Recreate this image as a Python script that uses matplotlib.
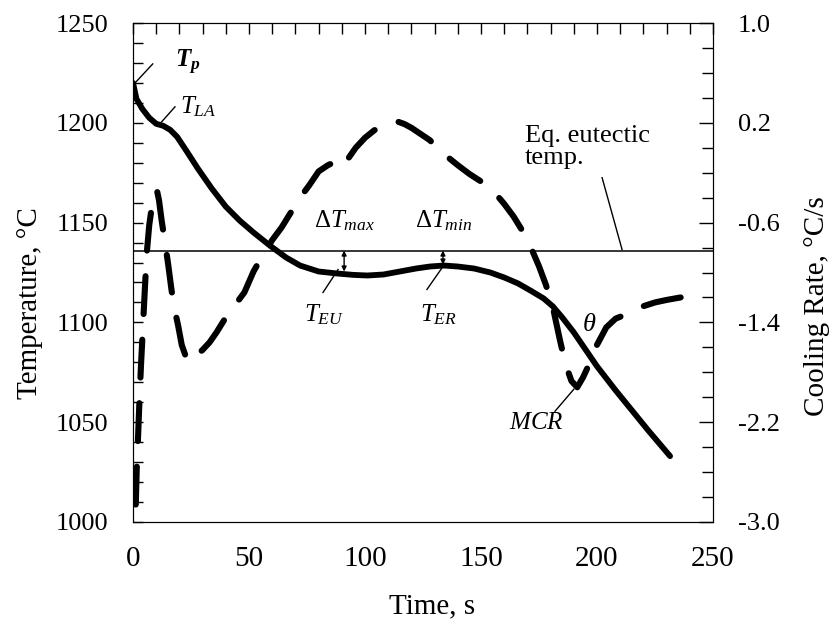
import matplotlib
matplotlib.use("Agg")
import matplotlib.pyplot as plt
from matplotlib.ticker import MultipleLocator, FormatStrFormatter

plt.rcParams['font.family'] = ['Liberation Serif', 'DejaVu Serif']
plt.rcParams['mathtext.fontset'] = 'custom'
plt.rcParams['mathtext.rm'] = 'Liberation Serif'
plt.rcParams['mathtext.it'] = 'Liberation Serif:italic'
plt.rcParams['mathtext.bf'] = 'Liberation Serif:bold'
plt.rcParams['mathtext.bfit'] = 'Liberation Serif:bold:italic'

# cooling curve (temperature, degC)
time_temp = [0, 1.5, 4, 7, 10, 13, 16, 19, 23, 28, 34, 40, 46, 52, 59, 66, 72,
             80, 88, 95, 101, 108, 115, 122, 128, 134, 140, 147, 154, 160, 166,
             172, 177, 181, 185, 190, 195, 200, 208, 215, 222, 231.5]
temperature = [1220, 1212, 1207, 1202.5, 1199.5, 1198.5, 1196.5, 1193, 1186,
               1177, 1167, 1158, 1151, 1145, 1138.5, 1132.5, 1128.5, 1125.5,
               1124.5, 1123.8, 1123.5, 1124, 1125.5, 1127, 1128, 1128.5, 1128,
               1127, 1125, 1122.5, 1119.5, 1115.5, 1112, 1108, 1102.5, 1095,
               1086.5, 1078, 1066, 1056, 1046, 1033]

# first derivative (cooling rate, degC/s)
time_rate = [1.2, 1.6, 2.2, 2.8, 3.4, 4.0, 4.6, 5.2, 6.0, 7.0, 8.2, 9.4, 10.3,
             11.2, 12.4, 13.8, 15.2, 16.6, 18.0, 19.5, 21.0, 22.5, 24.5, 27.0,
             30.0, 33.0, 36.0, 40.0, 44.0, 48.0, 52.0, 56.0, 60.0, 64.0, 68.0,
             72.0, 76.0, 80.0, 84.0, 87.5, 90.5, 93.0, 96.0, 100, 104, 108, 111,
             114, 117, 120, 124, 128, 132, 136, 140, 145, 150, 155, 160, 164,
             168, 172, 175, 178, 181, 184, 186.5, 189, 191.5, 194, 197, 200,
             204, 208, 212, 216, 220, 225, 230, 236, 242]
cooling_rate = [-2.86, -2.58, -2.31, -2.02, -1.76, -1.54, -1.32, -1.10, -0.83,
                -0.62, -0.46, -0.37, -0.34, -0.42, -0.59, -0.76, -0.94, -1.14,
                -1.30, -1.43, -1.58, -1.66, -1.72, -1.67, -1.62, -1.56, -1.48,
                -1.36, -1.26, -1.16, -0.99, -0.86, -0.74, -0.64, -0.52, -0.40,
                -0.30, -0.19, -0.14, -0.11, -0.15, -0.08, 0.00, 0.08, 0.14,
                0.18, 0.20, 0.21, 0.19, 0.16, 0.11, 0.06, -0.02, -0.08, -0.14,
                -0.21, -0.27, -0.34, -0.45, -0.55, -0.67, -0.82, -0.95, -1.10,
                -1.28, -1.54, -1.74, -1.87, -1.92, -1.84, -1.72, -1.58, -1.44,
                -1.37, -1.34, -1.31, -1.27, -1.24, -1.22, -1.20, -1.18]

eutectic_temp = 1136
rate_ticks = [-3.0, -2.2, -1.4, -0.6, 0.2, 1.0]

fig = plt.figure(figsize=(8.35, 6.21), dpi=100)
ax = fig.add_axes([133 / 835, 1 - 522 / 621, 580 / 835, 499 / 621])
ax2 = ax.twinx()

ax.plot(time_temp, temperature, color='black', lw=4.2, solid_capstyle='round',
        solid_joinstyle='round', zorder=3)
ax2.plot(time_rate, cooling_rate, color='black', lw=4.4, dashes=(6.2, 4.2),
         dash_capstyle='round', solid_joinstyle='round')
ax.axhline(eutectic_temp, color='black', lw=1.1)

ax.set_xlim(0, 250)
ax.set_ylim(1000, 1250)
ax2.set_ylim(-3.0, 1.0)

ax.xaxis.set_major_locator(MultipleLocator(50))
ax.xaxis.set_minor_locator(MultipleLocator(10))
ax.yaxis.set_major_locator(MultipleLocator(50))
ax.yaxis.set_minor_locator(MultipleLocator(10))
ax.tick_params(axis='x', which='both', direction='in', bottom=False, top=True,
               length=8, width=1, labelsize=21, pad=17)
ax.tick_params(axis='y', which='both', direction='in', length=7, width=1,
               labelsize=19, pad=18)
ax2.set_yticks(rate_ticks)
ax2.yaxis.set_major_formatter(FormatStrFormatter('%.1f'))
ax2.yaxis.set_minor_locator(MultipleLocator(0.2))
ax2.tick_params(axis='y', which='major', direction='in', length=10, width=1,
                labelsize=19, pad=18)
ax2.tick_params(axis='y', which='minor', direction='in', length=8, width=1)

fig.text(30 / 835, 1 - 303 / 621, 'Temperature, °C', rotation=90,
         ha='center', va='center', fontsize=21)
fig.text(817 / 835, 1 - 306 / 621, 'Cooling Rate, °C/s', rotation=90,
         ha='center', va='center', fontsize=21)
fig.text(432 / 835, 1 - 606 / 621, 'Time, s', ha='center', va='center',
         fontsize=21)

# labels and leader lines
lead = dict(color='black', lw=1)
ax.text(18.1, 1230, r'$\mathbfit{T}_{\mathbfit{p}}$', ha='left', va='center',
        fontsize=18)
ax.plot([0.9, 8.5], [1220, 1229.5], **lead)
ax.text(20.3, 1208, r'$T_{LA}$', ha='left', va='center', fontsize=18)
ax.plot([11.6, 18.1], [1199.5, 1208], **lead)

ax.text(91.2, 1151, r'$\mathit{\Delta T}_{max}$', ha='center', va='center',
        fontsize=18)
ax.text(134, 1151, r'$\mathit{\Delta T}_{min}$', ha='center', va='center',
        fontsize=18)
arrow = dict(arrowstyle='<|-|>', color='black', lw=1, mutation_scale=7,
             shrinkA=0, shrinkB=0)
ax.annotate('', xy=(91, eutectic_temp), xytext=(91, 1125.5), arrowprops=arrow)
ax.annotate('', xy=(133.6, eutectic_temp), xytext=(133.6, 1129),
            arrowprops=arrow)

ax.text(82.3, 1104, r'$T_{EU}$', ha='center', va='center', fontsize=18)
ax.plot([88.4, 81.9], [1126.5, 1115], **lead)
ax.text(131.5, 1104, r'$T_{ER}$', ha='center', va='center', fontsize=18)
ax.plot([133.6, 126.7], [1128, 1116.5], **lead)

ax.text(169, 1188, 'Eq. eutectic\ntemp.', ha='left', va='center',
        fontsize=19, linespacing=1.0)
ax.plot([202.2, 210.8], [1172.5, 1136.5], **lead)

ax.text(196.5, 1098.5, r'$\theta$', ha='center', va='center', fontsize=19)
ax.text(173.7, 1049.5, r'$MCR$', ha='center', va='center', fontsize=18)
ax.plot([190, 181.9], [1066.5, 1055.5], **lead)

fig.savefig('out.png', dpi=100)
